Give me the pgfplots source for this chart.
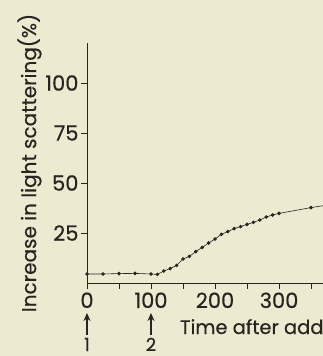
\documentclass[border=0pt]{standalone}
\usepackage{pgfplots}
\pgfplotsset{compat=1.18}
\usepackage{fontspec}
\setmainfont{Poppins}[FakeBold=0.5]
\usetikzlibrary{arrows.meta}
\definecolor{paper}{RGB}{238,234,210}
\definecolor{ink}{RGB}{40,37,33}
\begin{document}
\begin{tikzpicture}
\useasboundingbox (0,0) rectangle (323pt,356pt);
\clip (0,0) rectangle (323pt,356pt);
\fill[paper] (0,0) rectangle (323pt,356pt);
\begin{axis}[
  at={(87pt,73pt)}, anchor=origin,
  x=0.64pt, y=2pt,
  xmin=0, xmax=370, ymin=0, ymax=120,
  axis x line=bottom, axis y line=left,
  axis line style={-, ink, line width=0.8pt},
  every tick/.style={ink, line width=0.8pt},
  tick align=outside, major tick length=6pt, minor tick length=6pt,
  xtick={0,100,200,300}, minor xtick={50,150,250,350},
  ytick={25,50,75,100},
  tick label style={font=\fontsize{21pt}{24pt}\selectfont, text=ink},
  yticklabel style={xshift=1pt},
  /pgf/number format/assume math mode=true,
  ylabel={Increase in light scattering(\%)},
  ylabel style={font=\fontsize{20pt}{24pt}\selectfont, text=ink, yshift=-3pt},
  clip=false,
]
\addplot[ink, line width=0.6pt, mark=*, mark size=1.5pt, mark options={fill=ink}] coordinates {
(0,4.5) (25,4.5) (50,4.7) (75,4.8) (100,4.5) (110,4.3) (120,6.0) (130,7.2)
(140,8.8) (150,12) (160,13.3) (170,15.7) (180,17.8) (190,20) (200,22)
(210,24.3) (220,25.7) (230,27.2) (240,28.2) (250,29.3) (260,30.3) (270,31.5)
(280,33) (290,34) (300,34.8) (350,37.7)
};
\addplot[ink, line width=0.6pt] coordinates {(350,37.7) (370,38.7)};
\draw[ink, line width=1.4pt, -{Stealth[length=8pt,width=7pt]}] (axis cs:0,-26) -- (axis cs:0,-15);
\draw[ink, line width=1.4pt, -{Stealth[length=8pt,width=7pt]}] (axis cs:100,-26) -- (axis cs:100,-15);
\node[anchor=base, inner sep=0pt, text=ink, font=\fontsize{18pt}{20pt}\selectfont] at (axis cs:0,-34) {1};
\node[anchor=base, inner sep=0pt, text=ink, font=\fontsize{18pt}{20pt}\selectfont] at (axis cs:100,-34) {2};
\node[anchor=base west, inner sep=0pt, text=ink, font=\fontsize{19.5pt}{24pt}\selectfont] at (axis cs:145,-25.5) {Time after add};
\end{axis}
\end{tikzpicture}
\end{document}
